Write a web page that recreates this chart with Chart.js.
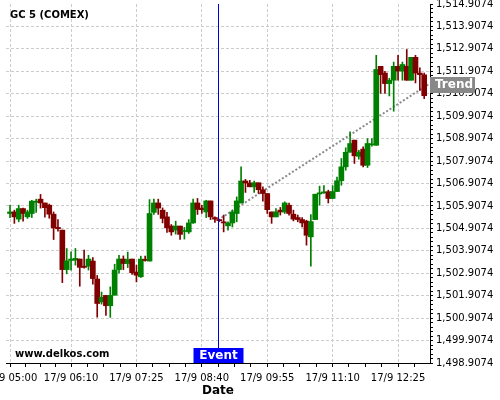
<!DOCTYPE html>
<html><head><meta charset="utf-8">
<script src="https://cdn.jsdelivr.net/npm/chart.js@4.4.0/dist/chart.umd.min.js"></script>
<style>html,body{margin:0;padding:0;background:#fff}canvas{display:block}</style>
</head><body>
<canvas id="c" width="500" height="400"></canvas>
<script>
const times = [
"05:00","05:05","05:10","05:15","05:20","05:25","05:30","05:35","05:40","05:45","05:50","05:55",
"06:00","06:05","06:10","06:15","06:20","06:25","06:30","06:35","06:40","06:45","06:50","06:55",
"07:00","07:05","07:10","07:15","07:20","07:25","07:30","07:35","07:40","07:45","07:50","07:55",
"08:00","08:05","08:10","08:15","08:20","08:25","08:30","08:35","08:40","08:45","08:50","08:55",
"09:00","09:05","09:10","09:15","09:20","09:25","09:30","09:35","09:40","09:45","09:50","09:55",
"10:00","10:05","10:10","10:15","10:20","10:25","10:30","10:35","10:40","10:45","10:50","10:55",
"11:00","11:05","11:10","11:15","11:20","11:25","11:30","11:35","11:40","11:45","11:50","11:55",
"12:00","12:05","12:10","12:15","12:20","12:25","12:30","12:35","12:40","12:45","12:50","12:55"];
const open = [
1505.57,1505.64,1505.32,1505.79,1505.42,1505.57,1506.07,1506.21,1506.04,1505.94,1505.54,1504.95,
1504.83,1503.07,1503.48,1503.49,1503.54,1503.22,1503.22,1503.45,1502.65,1501.63,1501.92,1501.46,
1501.93,1503.07,1503.54,1503.34,1503.54,1502.96,1502.75,1503.52,1503.45,1505.62,1506.04,1505.72,
1505.42,1505.01,1504.83,1505.01,1504.77,1504.75,1505.15,1506.04,1505.81,1505.64,1506.13,1505.39,
1505.30,1505.20,1505.02,1505.15,1505.57,1506.04,1507.02,1506.93,1506.76,1506.94,1506.63,1506.46,
1505.64,1505.42,1505.72,1505.64,1505.94,1505.54,1505.39,1505.30,1505.23,1504.53,1505.30,1506.44,
1506.49,1506.54,1506.24,1506.55,1507.03,1507.65,1508.30,1508.84,1508.12,1508.44,1507.72,1508.63,
1508.61,1512.13,1511.83,1511.36,1511.51,1512.13,1511.92,1512.13,1511.51,1512.53,1511.83,1511.75];
const high = [
1505.94,1505.72,1505.94,1505.81,1505.72,1506.16,1506.21,1506.42,1506.04,1505.99,1505.64,1505.30,
1504.83,1504.01,1503.86,1504.01,1503.54,1503.94,1503.71,1503.61,1502.81,1502.07,1501.92,1502.30,
1503.31,1503.71,1503.68,1503.85,1503.54,1503.27,1503.67,1503.67,1506.19,1506.21,1506.21,1505.82,
1505.62,1505.08,1505.23,1505.01,1504.95,1505.30,1506.21,1506.24,1505.94,1506.16,1506.13,1505.42,
1505.32,1505.50,1505.20,1505.72,1506.31,1507.65,1507.09,1507.05,1507.02,1506.94,1506.76,1506.46,
1505.64,1505.79,1505.84,1506.09,1506.04,1505.72,1505.50,1505.39,1505.27,1505.52,1506.43,1506.79,
1506.81,1506.61,1506.81,1507.19,1508.02,1508.50,1509.21,1508.84,1508.39,1508.54,1508.91,1508.91,
1512.62,1512.13,1511.91,1511.60,1512.32,1512.62,1512.32,1512.88,1512.53,1512.62,1512.06,1511.83];
const low = [
1505.39,1505.13,1505.20,1505.23,1505.35,1505.39,1505.62,1505.81,1505.41,1505.36,1504.41,1504.78,
1502.49,1502.88,1503.05,1503.27,1502.33,1503.13,1503.05,1502.42,1500.95,1501.53,1501.03,1500.94,
1501.93,1502.91,1503.07,1503.16,1502.85,1502.52,1502.72,1503.45,1503.45,1505.53,1505.53,1505.15,
1504.73,1504.60,1504.65,1504.41,1504.43,1504.68,1505.13,1505.53,1505.57,1505.39,1505.30,1505.17,
1505.21,1504.75,1504.83,1504.97,1505.20,1506.04,1506.51,1506.76,1506.51,1506.46,1506.12,1505.57,
1505.13,1505.42,1505.50,1505.57,1505.50,1505.24,1505.20,1504.97,1504.16,1503.22,1505.30,1505.94,
1506.46,1506.04,1506.24,1506.55,1506.83,1507.50,1508.30,1507.80,1507.99,1507.65,1507.62,1508.57,
1508.61,1510.92,1510.92,1510.81,1510.13,1511.51,1511.51,1511.51,1511.51,1511.39,1511.06,1510.69];
const close = [
1505.64,1505.42,1505.79,1505.57,1505.64,1506.12,1506.12,1506.04,1505.83,1505.54,1504.93,1504.89,
1503.07,1503.46,1503.54,1503.57,1503.17,1503.17,1503.54,1502.67,1501.56,1501.84,1501.46,1501.92,
1503.05,1503.54,1503.34,1503.52,1502.93,1502.82,1503.54,1503.48,1505.57,1506.04,1505.81,1505.35,
1504.93,1504.75,1505.01,1504.64,1504.80,1505.15,1506.04,1505.75,1505.74,1506.13,1505.42,1505.32,
1505.25,1505.15,1505.15,1505.64,1506.13,1507.02,1506.93,1506.76,1506.94,1506.63,1506.46,1505.74,
1505.42,1505.64,1505.64,1506.04,1505.57,1505.32,1505.30,1505.15,1504.60,1505.21,1506.43,1506.49,
1506.53,1506.24,1506.55,1507.03,1507.65,1508.30,1508.69,1508.14,1508.31,1507.72,1508.69,1508.67,
1511.99,1511.76,1511.36,1511.51,1512.13,1511.92,1512.21,1511.51,1512.53,1511.83,1511.76,1510.82];
const tickIndex = [0, 14, 29, 44, 59, 74, 89];
const tickLabels = ["17/9 05:00","17/9 06:10","17/9 07:25","17/9 08:40","17/9 09:55","17/9 11:10","17/9 12:25"];
const yMin = 1498.9074, yMax = 1514.9074;
const xMin = -0.92, xMax = 96.33;
const eventIndex = 48;
const trendIdx = [48.5, 96.33];
const trendVal = [1505.38, 1511.37];
const titleText = "GC 5 (COMEX)";
const watermark = "www.delkos.com";

const UP = '#008000', DOWN = '#800000', GRID = '#cccccc', NONE = 'rgba(0,0,0,0)';
Chart.defaults.font.family = '"DejaVu Sans", sans-serif';
Chart.defaults.font.size = 10;
Chart.defaults.color = '#000';

const idx = times.map((t, i) => i);
const colors = idx.map(i => close[i] >= open[i] ? UP : DOWN);
const bodies = idx.map(i => ({x: i, y: [open[i], close[i]]}));
const wicks = idx.map(i => ({x: i, y: [low[i], high[i]]}));
const trend = trendIdx.map((v, k) => ({x: v, y: trendVal[k]}));

const yTicks = [];
for (let k = 0; k <= Math.round((yMax - yMin) * 5); k++) yTicks.push(+(yMin + k * 0.2).toFixed(4));
const isMajor = v => Math.abs((v - yMin) - Math.round(v - yMin)) < 1e-6;
const fmt = v => v.toLocaleString('en-US', {minimumFractionDigits: 4, maximumFractionDigits: 4});

const xTicks = [];
tickIndex.forEach((t, k) => {
  xTicks.push(t);
  const next = k < tickIndex.length - 1 ? tickIndex[k + 1] : t + 15;
  for (let q = 1; q < 4; q++) { const v = t + (next - t) * q / 4; if (v <= xMax) xTicks.push(v); }
});

const overlay = {
  id: 'overlay',
  afterDraw(chart) {
    const {ctx, chartArea: a, scales: {x, y}} = chart;
    ctx.save();
    ctx.textBaseline = 'middle';
    ctx.fillStyle = '#000';
    ctx.font = 'bold 10px "DejaVu Sans"';
    ctx.textAlign = 'left';
    ctx.fillText(titleText, 10, 15);
    ctx.fillText(watermark, 15, 354);
    // event line
    const ex = Math.round(x.getPixelForValue(eventIndex)) - 0.5;
    ctx.strokeStyle = '#0000dd';
    ctx.lineWidth = 1;
    ctx.beginPath(); ctx.moveTo(ex, a.top); ctx.lineTo(ex, a.bottom); ctx.stroke();
    ctx.fillStyle = '#0000ff';
    ctx.fillRect(ex - 25, a.bottom - 15, 50, 15);
    ctx.fillStyle = '#fff';
    ctx.font = 'bold 12px "DejaVu Sans"';
    ctx.textAlign = 'center';
    ctx.fillText('Event', ex, a.bottom - 7);
    // trend label
    const ty = y.getPixelForValue(trendVal[1]);
    ctx.fillStyle = '#888888';
    ctx.fillRect(a.right, Math.round(ty) - 6, 45, 16);
    ctx.fillStyle = '#fff';
    ctx.textAlign = 'left';
    ctx.fillText('Trend', a.right + 5, Math.round(ty) + 2);
    ctx.restore();
  }
};

new Chart(document.getElementById('c'), {
  type: 'bar',
  data: {
    datasets: [
      {type: 'bar', data: bodies, backgroundColor: colors, borderWidth: 0, barThickness: 5, minBarLength: 1, grouped: false, order: 1},
      {type: 'bar', data: wicks, backgroundColor: colors, borderWidth: 0, barThickness: 1, minBarLength: 1, grouped: false, order: 2},
      {type: 'line', data: trend, borderColor: '#8a8a8a', borderWidth: 2, borderDash: [2, 2], pointRadius: 0, fill: false, order: 3}
    ]
  },
  options: {
    responsive: false, animation: false, devicePixelRatio: 1,
    layout: {padding: {left: 6, top: 4, right: 0, bottom: 0}},
    plugins: {legend: {display: false}, tooltip: {enabled: false}},
    scales: {
      x: {
        type: 'linear', min: xMin, max: xMax, offset: false,
        afterBuildTicks: s => { s.ticks = xTicks.map(v => ({value: v})); },
        afterFit: s => { s.height = 37; s.paddingLeft = 0; s.paddingRight = 0; },
        ticks: {autoSkip: false, maxRotation: 0, minRotation: 0, padding: 5, color: '#000',
          callback: v => { const k = tickIndex.indexOf(v); return k >= 0 ? tickLabels[k] : ''; }},
        grid: {offset: false, color: c => (c.tick && tickIndex.includes(c.tick.value)) ? GRID : NONE,
          tickColor: '#000', tickLength: 4, lineWidth: 1},
        border: {display: true, color: '#000', dash: [3, 2]},
        title: {display: true, text: 'Date', color: '#000', font: {size: 12, weight: 'bold'}, padding: {top: 0, bottom: 2}}
      },
      y: {
        type: 'linear', position: 'right', min: yMin, max: yMax,
        afterBuildTicks: s => { s.ticks = yTicks.map(v => ({value: v})); },
        afterFit: s => { s.width = 70; s.paddingTop = 0; s.paddingBottom = 0; },
        ticks: {autoSkip: false, padding: 3, color: '#000', callback: v => isMajor(v) ? fmt(v) : ''},
        grid: {color: c => (c.tick && isMajor(c.tick.value) && c.tick.value < yMax - 1e-6) ? GRID : NONE,
          tickColor: '#000', tickLength: 3, lineWidth: 1},
        border: {display: true, color: '#000', dash: [3, 2]}
      }
    }
  },
  plugins: [overlay]
});
</script>
</body></html>
